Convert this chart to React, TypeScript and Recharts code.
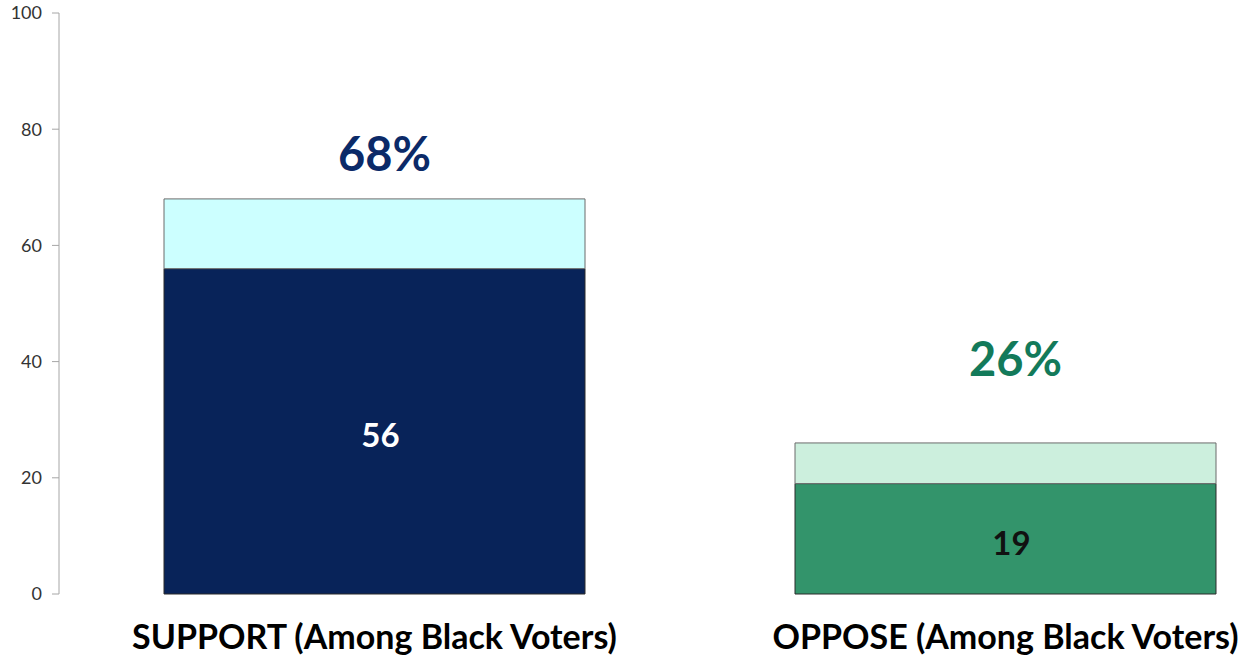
import React from 'react';
import { BarChart, Bar, XAxis, YAxis, Cell, LabelList } from 'recharts';

const categories = ['SUPPORT (Among Black Voters)', 'OPPOSE (Among Black Voters)'];
const strongValues = [56, 19];
const somewhatValues = [12, 7];
const totalLabels = ['68%', '26%'];
const yTicks = [0, 20, 40, 60, 80, 100];

const strongColors = ['#082359', '#33946b'];
const softColors = ['#ccffff', '#ccefdd'];
const strongTextColors = ['#ffffff', '#111111'];
const totalColors = ['#0b2a68', '#137a5a'];
// gap between the top of each column and its total label
const totalOffsets = [46, 85];
// labels in the source sit a little right of the bar centre
const labelShift = 10;

const data = categories.map((name, i) => ({
  name,
  strong: strongValues[i],
  soft: somewhatValues[i],
  total: totalLabels[i],
}));

const FONT = 'Lato, "Open Sans", sans-serif';

const TotalLabel = (props: any) => {
  const { x, y, width, index } = props;
  return (
    <text
      x={x + width / 2 + labelShift}
      y={y - totalOffsets[index]}
      textAnchor="middle"
      dominantBaseline="central"
      fill={totalColors[index]}
      fontFamily={FONT}
      fontWeight="bold"
      fontSize={47}
    >
      {totalLabels[index]}
    </text>
  );
};

const StrongLabel = (props: any) => {
  const { x, y, width, height, index } = props;
  return (
    <text
      x={x + width / 2 + labelShift - 4}
      y={y + height / 2 + 3}
      textAnchor="middle"
      dominantBaseline="central"
      fill={strongTextColors[index]}
      fontFamily={FONT}
      fontWeight="bold"
      fontSize={33}
    >
      {strongValues[index]}
    </text>
  );
};

export default function App() {
  return (
    <div style={{ position: 'absolute', left: 0, top: 0, width: 1244, height: 661, overflow: 'hidden', background: '#fff' }}>
      <BarChart
        width={1321}
        height={661}
        data={data}
        margin={{ top: 13, right: 0, left: 0, bottom: 0 }}
        barSize={421}
      >
        <XAxis
          dataKey="name"
          axisLine={false}
          tickLine={false}
          tickSize={0}
          tickMargin={31}
          height={67}
          interval={0}
          tick={{ fontSize: 34, fontWeight: 'bold', fill: '#000', fontFamily: FONT }}
        />
        <YAxis
          domain={[0, 100]}
          ticks={yTicks}
          width={59}
          axisLine={{ stroke: '#a6a6a6' }}
          tickLine={{ stroke: '#a6a6a6' }}
          tickSize={7}
          tickMargin={10}
          tick={{ fontSize: 18, fill: '#333', fontFamily: FONT }}
        />
        <Bar dataKey="strong" stackId="a" stroke="#2b2b2b" strokeWidth={1} isAnimationActive={false}>
          {data.map((_, i) => (
            <Cell key={i} fill={strongColors[i]} />
          ))}
          <LabelList dataKey="strong" content={<StrongLabel />} />
        </Bar>
        <Bar dataKey="soft" stackId="a" stroke="#6b6b6b" strokeWidth={1} isAnimationActive={false}>
          {data.map((_, i) => (
            <Cell key={i} fill={softColors[i]} />
          ))}
          <LabelList dataKey="total" content={<TotalLabel />} />
        </Bar>
      </BarChart>
    </div>
  );
}
